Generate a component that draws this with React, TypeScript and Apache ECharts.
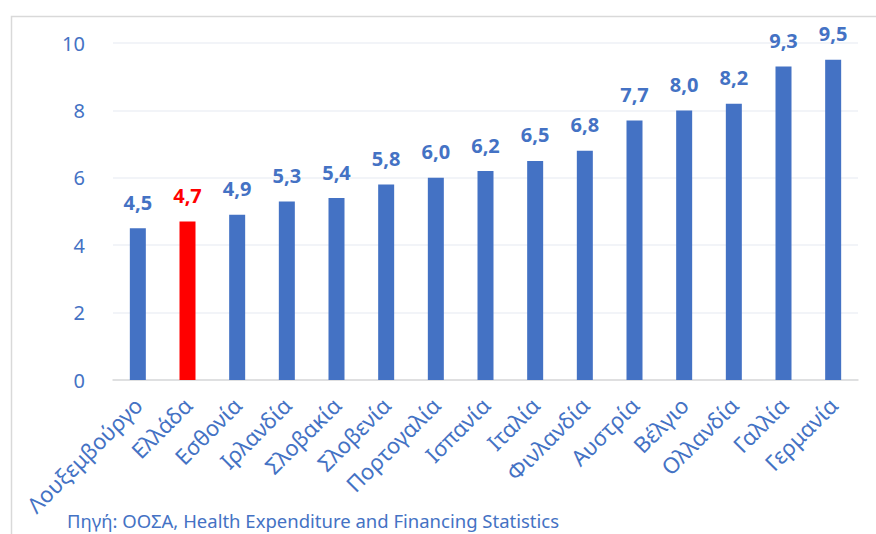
import React, { useEffect, useRef } from "react";
import * as echarts from "echarts";

const categories = [
  "Λουξεμβούργο", "Ελλάδα", "Εσθονία", "Ιρλανδία", "Σλοβακία", "Σλοβενία",
  "Πορτογαλία", "Ισπανία", "Ιταλία", "Φινλανδία", "Αυστρία", "Βέλγιο",
  "Ολλανδία", "Γαλλία", "Γερμανία",
];
const values = [4.5, 4.7, 4.9, 5.3, 5.4, 5.8, 6.0, 6.2, 6.5, 6.8, 7.7, 8.0, 8.2, 9.3, 9.5];
const highlighted = "Ελλάδα";
const sourceText = "Πηγή: ΟΟΣΑ, Health Expenditure and Financing Statistics";

const BLUE = "#4472C4";
const RED = "#FF0000";
const FONT = "'Noto Sans', 'Open Sans', sans-serif";

export default function App() {
  const ref = useRef<HTMLDivElement>(null);
  useEffect(() => {
    if (!ref.current) return;
    const chart = echarts.init(ref.current, undefined, { renderer: "svg" });
    const data = values.map((v, i) => {
      const isHi = categories[i] === highlighted;
      return {
        value: v,
        itemStyle: { color: isHi ? RED : BLUE },
        label: { color: isHi ? RED : BLUE },
      };
    });
    chart.setOption({
      animation: false,
      backgroundColor: "#ffffff",
      textStyle: { fontFamily: FONT },
      grid: { left: 113, right: 18, top: 43, bottom: 154, containLabel: false },
      xAxis: {
        type: "category",
        data: categories,
        axisTick: { show: false },
        axisLine: { lineStyle: { color: "#D9D9D9", width: 1.5 } },
        axisLabel: {
          interval: 0,
          rotate: 45,
          color: BLUE,
          fontSize: 22,
          fontFamily: FONT,
          margin: 21,
        },
      },
      yAxis: {
        type: "value",
        min: 0,
        max: 10,
        interval: 2,
        axisLine: { show: false },
        axisTick: { show: false },
        splitLine: { lineStyle: { color: "#EEF1F6", width: 1.5 } },
        axisLabel: { color: BLUE, fontSize: 20, fontFamily: FONT, margin: 28 },
      },
      series: [
        {
          type: "bar",
          data,
          barWidth: 16,
          label: {
            show: true,
            position: "top",
            distance: 16,
            fontSize: 20,
            fontWeight: "bold",
            fontFamily: FONT,
            formatter: (p: any) => Number(p.value).toFixed(1).replace(".", ","),
          },
        },
      ],
      graphic: [
        {
          type: "rect",
          left: 9,
          top: 14,
          shape: { x: 0, y: 0, width: 900, height: 600 },
          style: { fill: "none", stroke: "#D9D9D9", lineWidth: 1.5 },
          silent: true,
          z: -1,
        },
        {
          type: "text",
          left: 67,
          top: 511,
          style: {
            text: sourceText,
            fill: BLUE,
            fontSize: 18.5,
            fontFamily: FONT,
          },
        },
      ],
    });
    return () => chart.dispose();
  }, []);
  return (
    <div
      ref={ref}
      style={{ position: "absolute", left: 0, top: 0, width: 876, height: 534 }}
    />
  );
}
